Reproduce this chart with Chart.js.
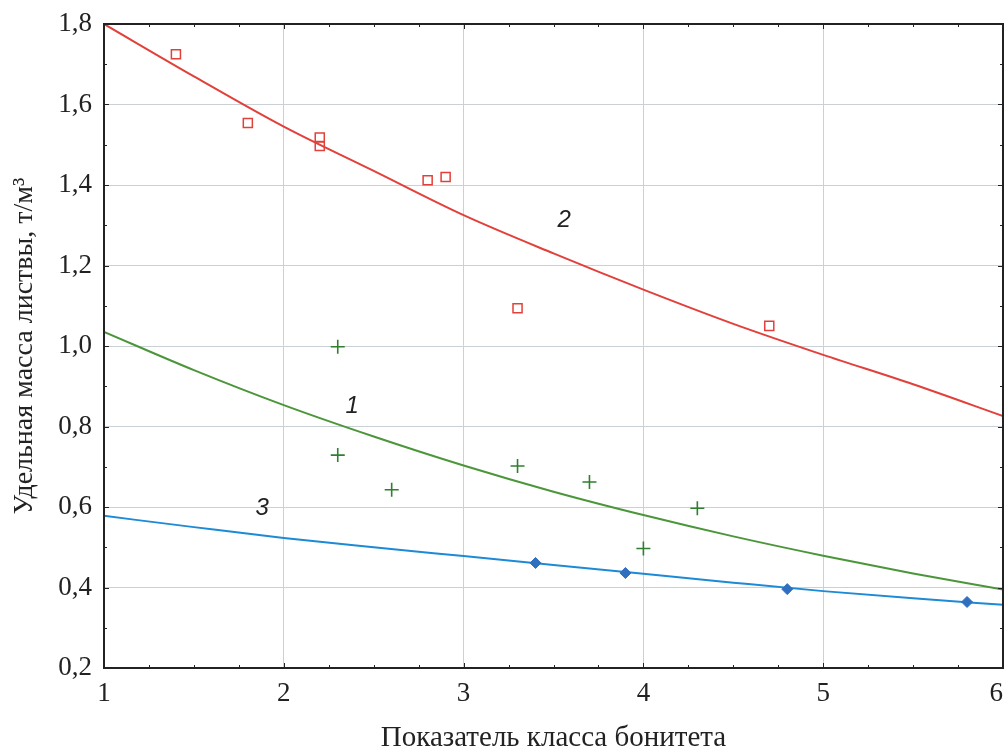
<!DOCTYPE html>
<html>
<head>
<meta charset="utf-8">
<script src="https://cdn.jsdelivr.net/npm/chart.js@4"></script>
<style>
    html, body { margin: 0; padding: 0; background: #fff; }
    #wrap { width: 1006px; height: 750px; }
</style>
</head>
<body>
<div id="wrap"><canvas id="chart"></canvas></div>
<script>
// Значения
const curveX = [1, 1.5, 2, 2.5, 3, 3.5, 4, 4.5, 5, 5.5, 6];
const curve1 = [1.035, 0.94, 0.853, 0.775, 0.703, 0.638, 0.58, 0.527, 0.479, 0.435, 0.395];
const curve2 = [1.80, 1.67, 1.545, 1.435, 1.325, 1.23, 1.14, 1.055, 0.978, 0.905, 0.826];
const curve3 = [0.578, 0.55, 0.523, 0.5, 0.478, 0.456, 0.434, 0.412, 0.391, 0.373, 0.357];

const redX = [1.4, 1.8, 2.2, 2.2, 2.8, 2.9, 3.3, 4.7];
const redY = [1.725, 1.554, 1.518, 1.497, 1.412, 1.42, 1.094, 1.05];
const greenX = [2.3, 2.3, 2.6, 3.3, 3.7, 4.0, 4.3];
const greenY = [0.998, 0.729, 0.643, 0.702, 0.662, 0.497, 0.597];
const blueX = [3.4, 3.9, 4.8, 5.8];
const blueY = [0.461, 0.436, 0.396, 0.364];

const xTickLabels = ['1', '2', '3', '4', '5', '6'];
const yTickLabels = ['0,2', '0,4', '0,6', '0,8', '1,0', '1,2', '1,4', '1,6', '1,8'];

const curveNames = ['1', '2', '3'];
const curveNameX = [2.38, 3.56, 1.88];
const curveNameY = [0.851, 1.313, 0.597];

const RED = '#e2403a';
const GREEN_LINE = '#4b963a';
const GREEN_PT = '#2f7f2f';
const BLUE_LINE = '#1d8ad6';
const BLUE_PT = '#2f6fbf';
const AXIS = '#222';
const GRID = '#c9d1d6';
const SERIF = '"Liberation Serif", "Times New Roman", serif';

function toPoints(xs, ys) {
    return xs.map((x, i) => ({ x: x, y: ys[i] }));
}

function lineSet(ys, color) {
    return {
        type: 'line',
        data: toPoints(curveX, ys),
        borderColor: color,
        borderWidth: 2,
        pointRadius: 0,
        cubicInterpolationMode: 'monotone',
        fill: false,
        order: 2
    };
}

// Рамка, мелкие засечки и подписи кривых
const framePlugin = {
    id: 'frame',
    afterDraw(chart) {
        const { ctx, chartArea: a, scales: { x, y } } = chart;
        ctx.save();
        ctx.strokeStyle = AXIS;
        ctx.lineWidth = 1;
        for (let v = 1; v <= 6.0001; v += 0.25) {
            const px = Math.round(x.getPixelForValue(v)) + 0.5;
            const len = Math.abs(v - Math.round(v)) < 1e-6 ? 5 : 3;
            ctx.beginPath();
            ctx.moveTo(px, a.bottom); ctx.lineTo(px, a.bottom - len);
            ctx.moveTo(px, a.top); ctx.lineTo(px, a.top + len);
            ctx.stroke();
        }
        for (let v = 0.2; v <= 1.8001; v += 0.1) {
            const py = Math.round(y.getPixelForValue(v)) + 0.5;
            const major = Math.round(v * 10) % 2 === 0;
            const len = major ? 5 : 3;
            ctx.beginPath();
            ctx.moveTo(a.left, py); ctx.lineTo(a.left + len, py);
            ctx.moveTo(a.right, py); ctx.lineTo(a.right - len, py);
            ctx.stroke();
        }
        ctx.lineWidth = 2;
        ctx.strokeRect(a.left, a.top, a.right - a.left, a.bottom - a.top);

        ctx.fillStyle = '#222';
        ctx.font = 'italic 24px "Liberation Sans", Arial, sans-serif';
        ctx.textAlign = 'center';
        ctx.textBaseline = 'middle';
        curveNames.forEach((t, i) => {
            ctx.fillText(t, x.getPixelForValue(curveNameX[i]), y.getPixelForValue(curveNameY[i]));
        });
        ctx.restore();
    }
};

const ctx = document.getElementById('chart');

new Chart(ctx, {
    type: 'scatter',
    data: {
        datasets: [
            lineSet(curve1, GREEN_LINE),
            lineSet(curve2, RED),
            lineSet(curve3, BLUE_LINE),
            {
                data: toPoints(redX, redY),
                pointStyle: 'rect',
                pointRadius: 6.4,
                borderColor: RED,
                backgroundColor: 'rgba(0,0,0,0)',
                borderWidth: 1.5,
                order: 1
            },
            {
                data: toPoints(greenX, greenY),
                pointStyle: 'cross',
                pointRadius: 7,
                borderColor: GREEN_PT,
                borderWidth: 1.6,
                order: 1
            },
            {
                data: toPoints(blueX, blueY),
                pointStyle: 'rectRot',
                pointRadius: 5.5,
                borderColor: BLUE_PT,
                backgroundColor: BLUE_PT,
                borderWidth: 1,
                order: 0
            }
        ]
    },
    options: {
        responsive: true,
        maintainAspectRatio: false,
        animation: false,
        layout: { autoPadding: false, padding: { top: 24, right: 3, left: 0, bottom: 0 } },
        plugins: {
            legend: { display: false },
            tooltip: { enabled: false }
        },
        scales: {
            x: {
                type: 'linear',
                min: 1,
                max: 6,
                grid: { color: GRID, lineWidth: 1, drawTicks: false },
                border: { display: true, color: AXIS, width: 2 },
                ticks: {
                    stepSize: 1,
                    padding: 10,
                    color: AXIS,
                    font: { family: SERIF, size: 27 },
                    // последняя подпись сдвинута влево, чтобы не обрезалась краем
                    callback: (v, i, ticks) => i === ticks.length - 1 ? xTickLabels[i] + '\u2002' : xTickLabels[i]
                },
                title: {
                    display: true,
                    text: 'Показатель класса бонитета',
                    color: AXIS,
                    font: { family: SERIF, size: 29, lineHeight: 0.8 },
                    padding: { top: 0, bottom: 0 }
                },
                afterFit(scale) {
                    scale.height = 82;
                    scale.paddingLeft = 0;
                    scale.paddingRight = 0;
                }
            },
            y: {
                type: 'linear',
                min: 0.2,
                max: 1.8,
                grid: { color: GRID, lineWidth: 1, drawTicks: false },
                border: { display: true, color: AXIS, width: 2 },
                ticks: {
                    stepSize: 0.2,
                    padding: 12,
                    color: AXIS,
                    font: { family: SERIF, size: 27 },
                    callback: (v, i) => yTickLabels[i]
                },
                title: {
                    display: true,
                    text: 'Удельная масса листвы, т/м³',
                    color: AXIS,
                    font: { family: SERIF, size: 28, lineHeight: 1 },
                    padding: { top: 11, bottom: 0 }
                },
                afterFit(scale) {
                    scale.width = 104;
                    scale.paddingTop = 0;
                    scale.paddingBottom = 0;
                }
            }
        }
    },
    plugins: [framePlugin]
});
</script>
</body>
</html>
